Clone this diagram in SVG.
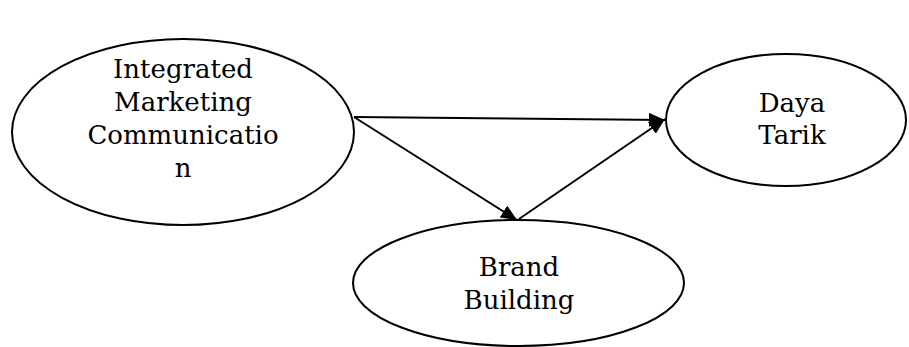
<svg xmlns="http://www.w3.org/2000/svg" width="909" height="347" viewBox="0 0 909 347">
<style>
.node ellipse{fill:#fff;stroke:#000;stroke-width:2}
.node text{font-family:"DejaVu Serif","Liberation Serif",serif;font-size:26px;fill:#000;text-anchor:middle}
.edge{stroke:#000;stroke-width:2;fill:none;marker-end:url(#arr)}
</style>
<defs>
<marker id="arr" markerUnits="userSpaceOnUse" markerWidth="16" markerHeight="14" refX="16" refY="7" orient="auto">
<path d="M0,0 L16,7 L0,14 Z" fill="#000"/>
</marker>
</defs>
<rect width="909" height="347" fill="#fff"/>
<g id="imc" class="node">
<ellipse cx="183" cy="132" rx="171" ry="93"/>
<text x="183" y="78">Integrated</text>
<text x="183" y="111">Marketing</text>
<text x="183" y="144">Communicatio</text>
<text x="183" y="177">n</text>
</g>
<g id="daya-tarik" class="node">
<ellipse cx="786" cy="120" rx="120" ry="66"/>
<text x="792" y="112">Daya</text>
<text x="792" y="144">Tarik</text>
</g>
<g id="brand-building" class="node">
<ellipse cx="518.5" cy="283" rx="165.5" ry="63"/>
<text x="519" y="276">Brand</text>
<text x="519" y="309">Building</text>
</g>
<g id="connectors">
<line class="edge" x1="354" y1="117" x2="665" y2="120"/>
<line class="edge" x1="354" y1="117" x2="517" y2="220"/>
<line class="edge" x1="519" y1="219" x2="665" y2="119"/>
</g>
</svg>
